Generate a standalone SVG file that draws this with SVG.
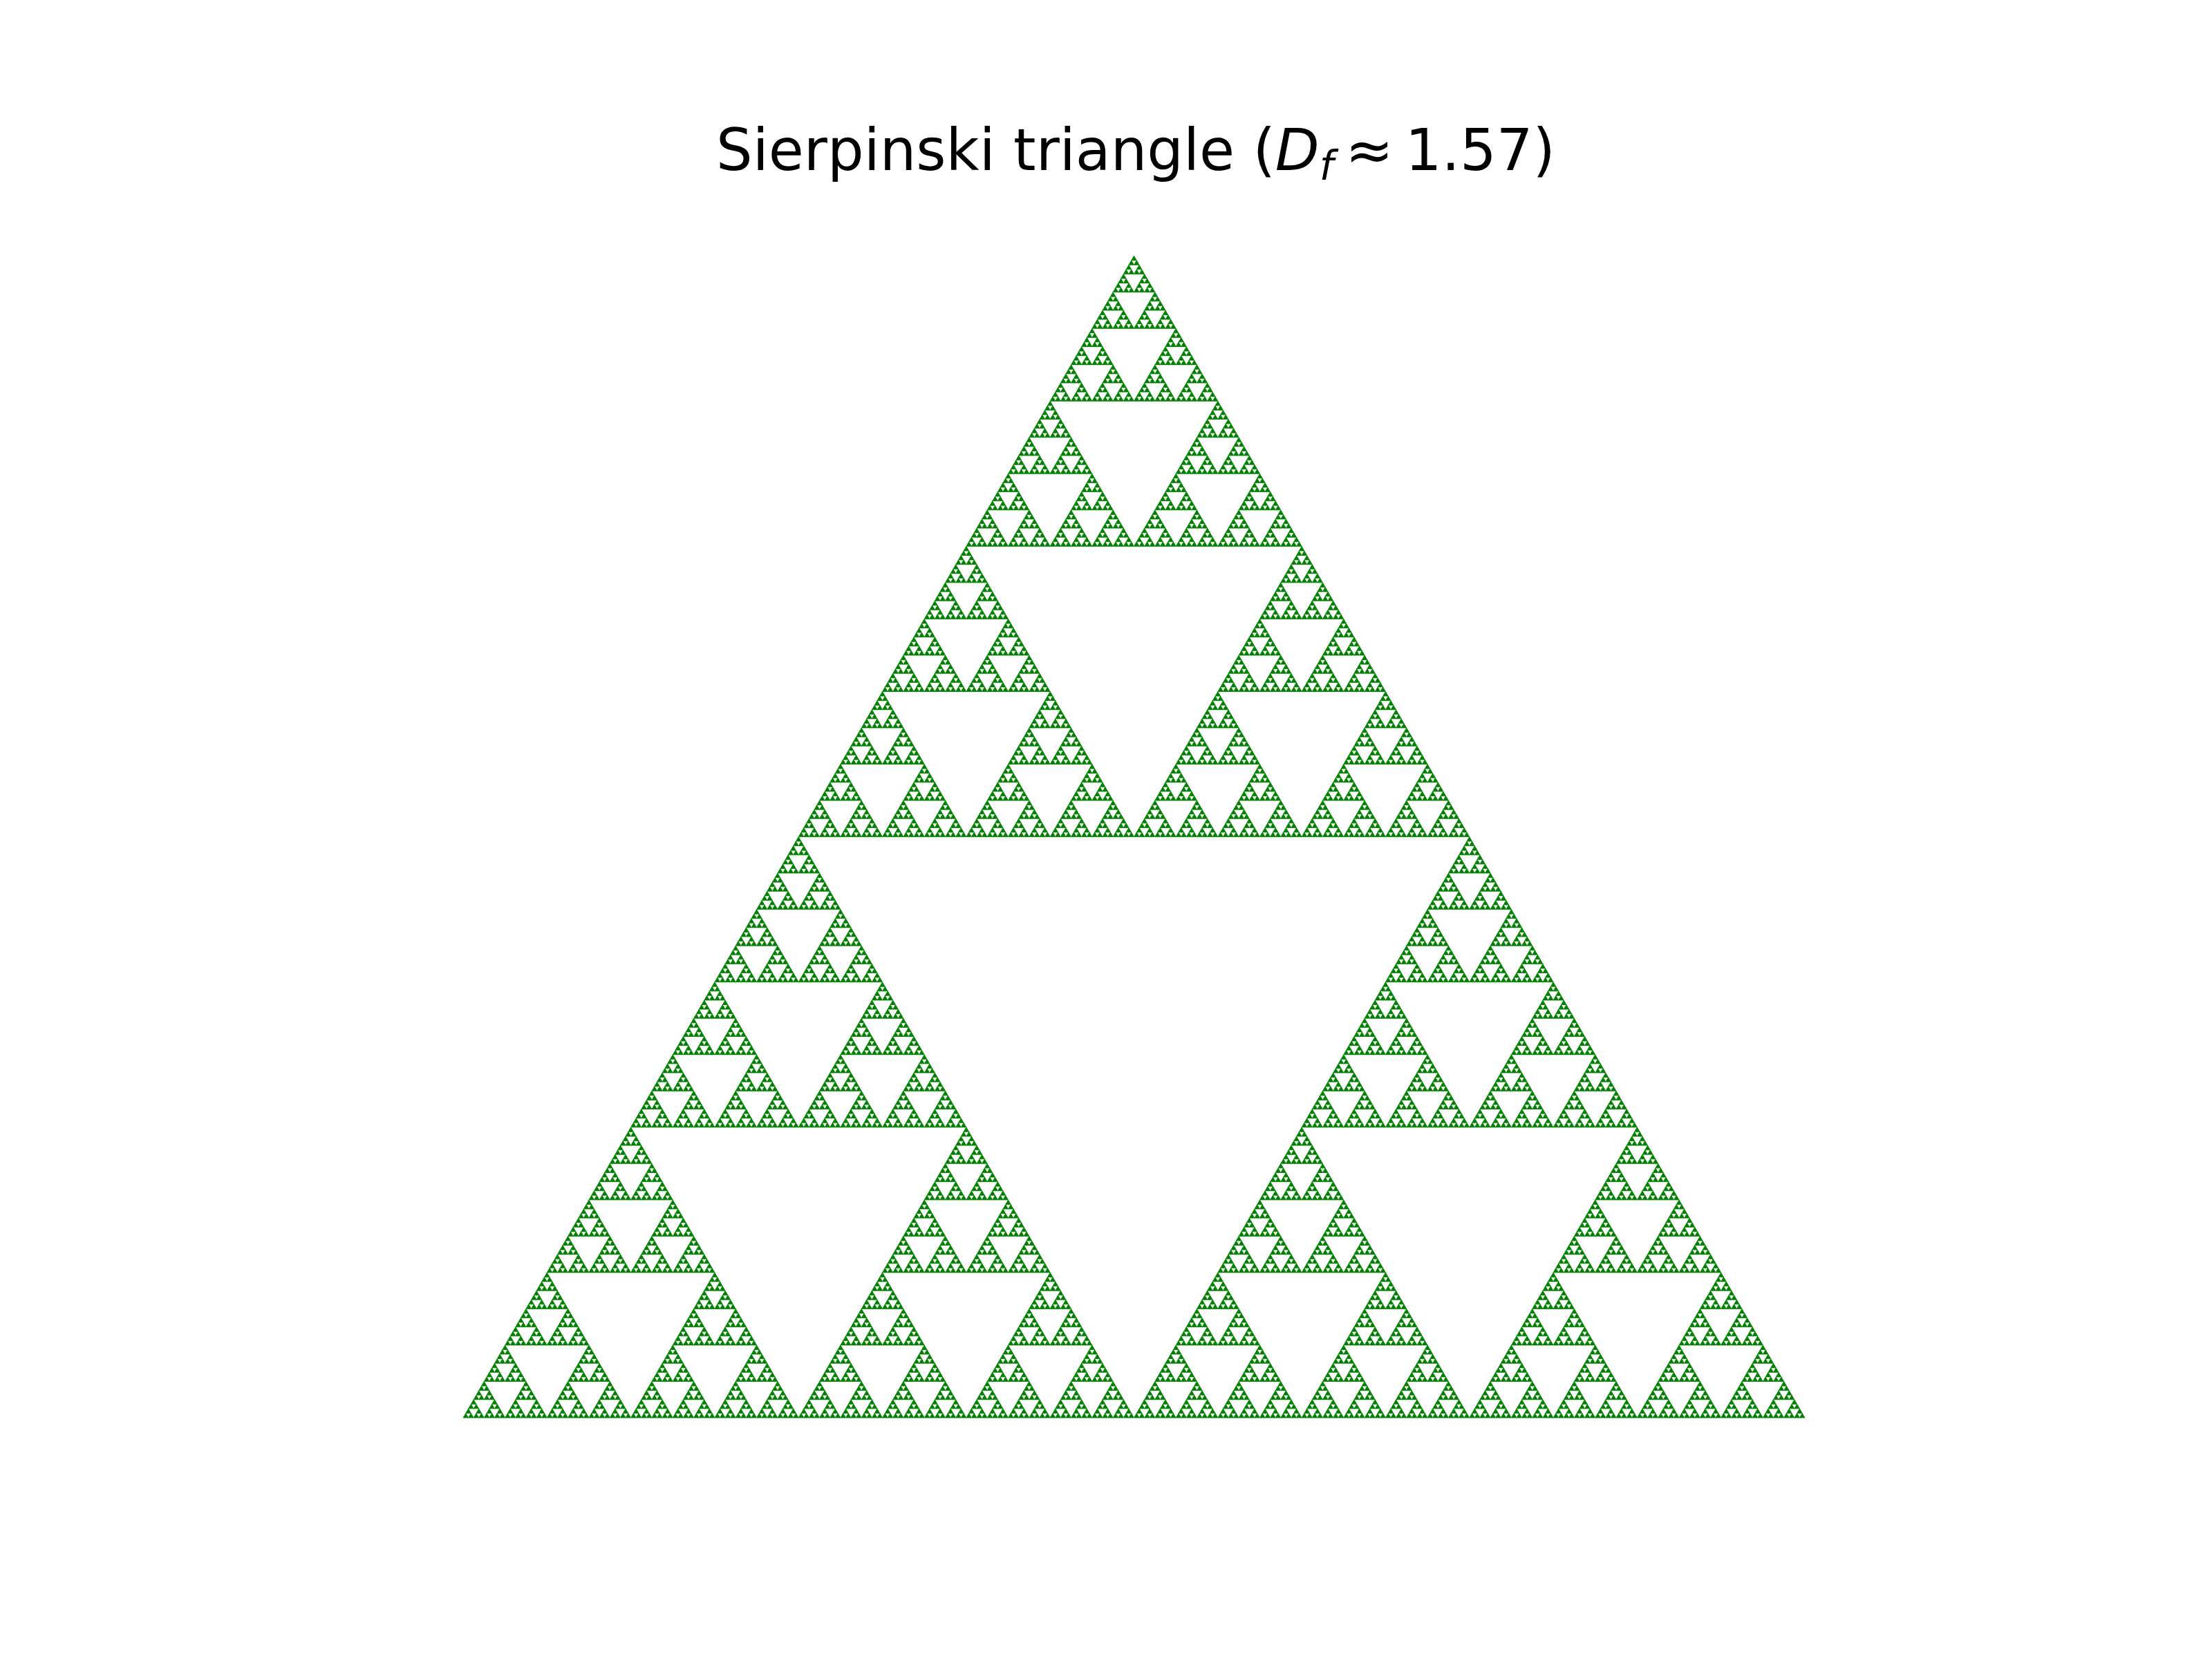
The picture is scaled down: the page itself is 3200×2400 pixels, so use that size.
<svg xmlns="http://www.w3.org/2000/svg" xmlns:xlink="http://www.w3.org/1999/xlink" width="3200" height="2400" viewBox="0 0 3200 2400">
<style>
.tri{fill:#008000;stroke:#008000;stroke-width:0.8;stroke-linejoin:round}
.title{font-family:"DejaVu Sans",sans-serif;font-size:83px;fill:#000}
.it{font-family:"DejaVu Sans",sans-serif;font-style:italic}
</style>
<defs>
<polygon id="t0" class="tri" points="0,0 7.582,0 3.791,-6.566"/>
<g id="t1"><use href="#t0"/><use href="#t0" x="7.582"/><use href="#t0" x="3.791" y="-6.566"/></g>
<g id="t2"><use href="#t1"/><use href="#t1" x="15.164"/><use href="#t1" x="7.582" y="-13.132"/></g>
<g id="t3"><use href="#t2"/><use href="#t2" x="30.328"/><use href="#t2" x="15.164" y="-26.264"/></g>
<g id="t4"><use href="#t3"/><use href="#t3" x="60.656"/><use href="#t3" x="30.328" y="-52.528"/></g>
<g id="t5"><use href="#t4"/><use href="#t4" x="121.3125"/><use href="#t4" x="60.656" y="-105.056"/></g>
<g id="t6"><use href="#t5"/><use href="#t5" x="242.625"/><use href="#t5" x="121.3125" y="-210.11"/></g>
<g id="t7"><use href="#t6"/><use href="#t6" x="485.25"/><use href="#t6" x="242.625" y="-420.22"/></g>
<g id="t8"><use href="#t7"/><use href="#t7" x="970.5"/><use href="#t7" x="485.25" y="-840.44"/></g>
</defs>
<rect width="3200" height="2400" fill="#fff"/>
<g id="sierpinski" transform="translate(670,2051)">
<use href="#t8"/>
</g>
<g id="title">
<text class="title" x="1643" y="246" text-anchor="middle">Sierpinski triangle (<tspan class="it">D</tspan><tspan class="it" font-size="58" dy="14">f</tspan><tspan dy="-14" dx="17">≈</tspan><tspan dx="17">1.57</tspan>)</text>
</g>
</svg>
